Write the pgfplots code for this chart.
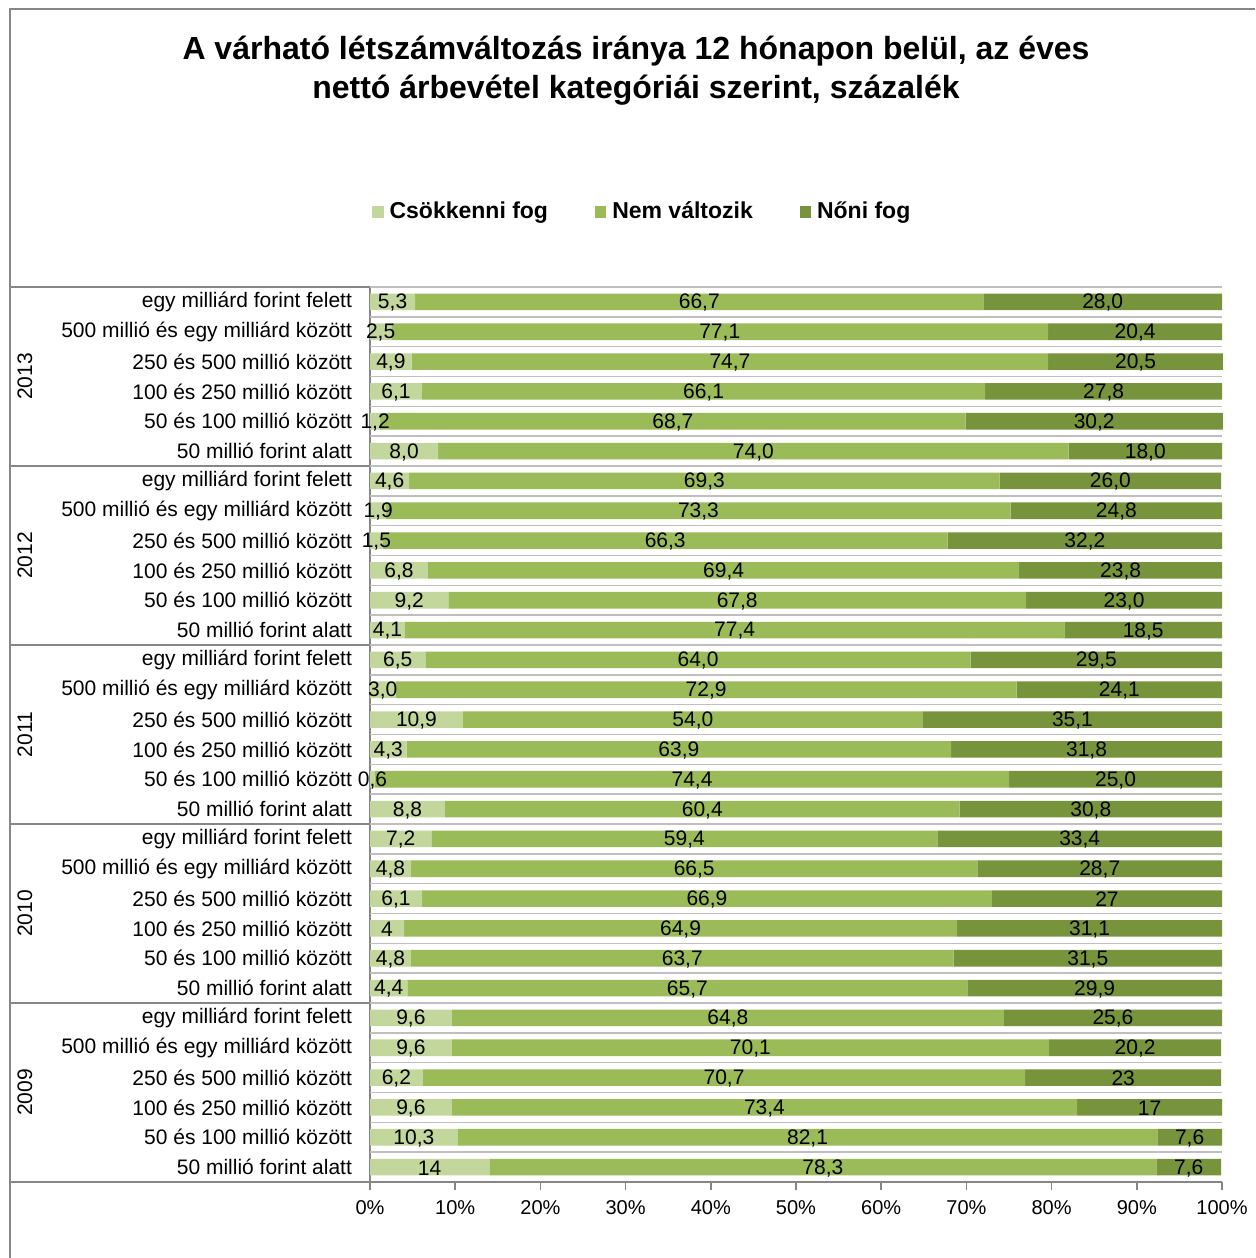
\documentclass[border=0pt]{standalone}
\usepackage{pgfplots}
\pgfplotsset{compat=1.18}
\usepackage{pgfplotstable}
\usepackage{fontspec}
\setmainfont{Liberation Sans}
\definecolor{cA}{HTML}{C3D69B}
\definecolor{cB}{HTML}{9BBB59}
\definecolor{cC}{HTML}{77933C}
\definecolor{axgray}{HTML}{868686}
\definecolor{gridgray}{HTML}{BFBFBF}

\pgfplotstableread{
row a b c la lb lc
0 5.3 66.7 28.0 5,3 66,7 28,0
1 2.5 77.1 20.4 2,5 77,1 20,4
2 4.9 74.7 20.5 4,9 74,7 20,5
3 6.1 66.1 27.8 6,1 66,1 27,8
4 1.2 68.7 30.2 1,2 68,7 30,2
5 8.0 74.0 18.0 8,0 74,0 18,0
6 4.6 69.3 26.0 4,6 69,3 26,0
7 1.9 73.3 24.8 1,9 73,3 24,8
8 1.5 66.3 32.2 1,5 66,3 32,2
9 6.8 69.4 23.8 6,8 69,4 23,8
10 9.2 67.8 23.0 9,2 67,8 23,0
11 4.1 77.4 18.5 4,1 77,4 18,5
12 6.5 64.0 29.5 6,5 64,0 29,5
13 3.0 72.9 24.1 3,0 72,9 24,1
14 10.9 54.0 35.1 10,9 54,0 35,1
15 4.3 63.9 31.8 4,3 63,9 31,8
16 0.6 74.4 25.0 0,6 74,4 25,0
17 8.8 60.4 30.8 8,8 60,4 30,8
18 7.2 59.4 33.4 7,2 59,4 33,4
19 4.8 66.5 28.7 4,8 66,5 28,7
20 6.1 66.9 27 6,1 66,9 27
21 4 64.9 31.1 4 64,9 31,1
22 4.8 63.7 31.5 4,8 63,7 31,5
23 4.4 65.7 29.9 4,4 65,7 29,9
24 9.6 64.8 25.6 9,6 64,8 25,6
25 9.6 70.1 20.2 9,6 70,1 20,2
26 6.2 70.7 23 6,2 70,7 23
27 9.6 73.4 17 9,6 73,4 17
28 10.3 82.1 7.6 10,3 82,1 7,6
29 14 78.3 7.6 14 78,3 7,6
}\data

\newcommand{\lblfont}{\fontsize{10.5}{12}\selectfont}

\begin{document}
\begin{tikzpicture}
\useasboundingbox (0,0) rectangle (627.5pt,629pt);
\fill[white] (0,0) rectangle (627.5pt,629pt);
% frame
\draw[axgray, line width=0.75pt] (5pt,0) -- (5pt,624.5pt) -- (627.5pt,624.5pt);
% title
\node[font=\bfseries\fontsize{16}{19.5}\selectfont, anchor=base] at (318pt,599pt) {A várható létszámváltozás iránya 12 hónapon belül, az éves};
\node[font=\bfseries\fontsize{16}{19.5}\selectfont, anchor=base] at (318pt,579.5pt) {nettó árbevétel kategóriái szerint, százalék};

\begin{axis}[
  at={(185pt,38pt)}, anchor=south west,
  width=426pt, height=447.5pt, scale only axis,
  xbar stacked, bar width=8.3pt,
  xmin=0, xmax=100, ymin=-0.5, ymax=29.5, y dir=reverse,
  axis x line*=bottom, axis y line*=left,
  axis line style={axgray, line width=0.75pt},
  /pgf/number format/assume math mode=true,
  xtick={0,10,...,100},
  xticklabel={\pgfmathprintnumber{\tick}\%},
  xtick style={axgray, line width=0.75pt},
  x tick label style={font=\fontsize{10}{12}\selectfont, yshift=-1.5pt},
  tick align=outside, major tick length=4pt,
  ytick={0,...,29},
  y tick style={draw=none},
  y tick label style={font=\lblfont, xshift=-1.5pt},
  yticklabels={egy milliárd forint felett,500 millió és egy milliárd között,250 és 500 millió között,100 és 250 millió között,50 és 100 millió között,50 millió forint alatt,
  egy milliárd forint felett,500 millió és egy milliárd között,250 és 500 millió között,100 és 250 millió között,50 és 100 millió között,50 millió forint alatt,
  egy milliárd forint felett,500 millió és egy milliárd között,250 és 500 millió között,100 és 250 millió között,50 és 100 millió között,50 millió forint alatt,
  egy milliárd forint felett,500 millió és egy milliárd között,250 és 500 millió között,100 és 250 millió között,50 és 100 millió között,50 millió forint alatt,
  egy milliárd forint felett,500 millió és egy milliárd között,250 és 500 millió között,100 és 250 millió között,50 és 100 millió között,50 millió forint alatt},
  extra y ticks={-0.5,0.5,...,28.5},
  extra y tick labels={},
  extra y tick style={grid=major, major grid style={gridgray, line width=0.75pt}, major tick length=0pt},
  clip=false,
  legend columns=3,
  legend style={at={(0,1)}, anchor=west, yshift=37.5pt, xshift=1pt, draw=none, fill=none, inner sep=0pt,
    font=\bfseries\fontsize{11.5}{13}\selectfont,
    nodes={inner sep=0pt},
    /tikz/every odd column/.append style={column sep=3pt},
    /tikz/every even column/.append style={column sep=23.5pt}},
  legend image code/.code={\fill[#1] (0pt,-2.8pt) rectangle (5.6pt,2.8pt);},
]
\addplot[fill=cA, draw=none] table[x=a, y=row] {\data};
\addplot[fill=cB, draw=none] table[x=b, y=row] {\data};
\addplot[fill=cC, draw=none] table[x=c, y=row] {\data};
\legend{Csökkenni fog, Nem változik, Nőni fog}
% group separators
\draw[axgray, line width=0.75pt] ([xshift=-180pt]axis cs:0,-0.5) -- (axis cs:0,-0.5);
\draw[axgray, line width=0.75pt] ([xshift=-180pt]axis cs:0,5.5) -- (axis cs:0,5.5);
\draw[axgray, line width=0.75pt] ([xshift=-180pt]axis cs:0,11.5) -- (axis cs:0,11.5);
\draw[axgray, line width=0.75pt] ([xshift=-180pt]axis cs:0,17.5) -- (axis cs:0,17.5);
\draw[axgray, line width=0.75pt] ([xshift=-180pt]axis cs:0,23.5) -- (axis cs:0,23.5);
\draw[axgray, line width=0.75pt] ([xshift=-180pt]axis cs:0,29.5) -- (axis cs:0,29.5);
\node[rotate=90, font=\lblfont] at ([xshift=-172.5pt]axis cs:0,2.5) {2013};
\node[rotate=90, font=\lblfont] at ([xshift=-172.5pt]axis cs:0,8.5) {2012};
\node[rotate=90, font=\lblfont] at ([xshift=-172.5pt]axis cs:0,14.5) {2011};
\node[rotate=90, font=\lblfont] at ([xshift=-172.5pt]axis cs:0,20.5) {2010};
\node[rotate=90, font=\lblfont] at ([xshift=-172.5pt]axis cs:0,26.5) {2009};
\end{axis}

\begin{axis}[
  at={(185pt,38pt)}, anchor=south west,
  width=426pt, height=447.5pt, scale only axis,
  xmin=0, xmax=100, ymin=-0.5, ymax=29.5, y dir=reverse,
  hide axis, clip=false,
  nodes near coords, point meta=explicit symbolic,
  every node near coord/.append style={anchor=center, font=\lblfont, text=black, inner sep=0pt, yshift=-0.5pt},
]
\addplot[only marks, mark=none] table[x expr=\thisrow{a}/2, y=row, meta=la] {\data};
\addplot[only marks, mark=none] table[x expr=\thisrow{a}+\thisrow{b}/2, y=row, meta=lb] {\data};
\addplot[only marks, mark=none] table[x expr=\thisrow{a}+\thisrow{b}+\thisrow{c}/2, y=row, meta=lc] {\data};
\end{axis}
\end{tikzpicture}
\end{document}
